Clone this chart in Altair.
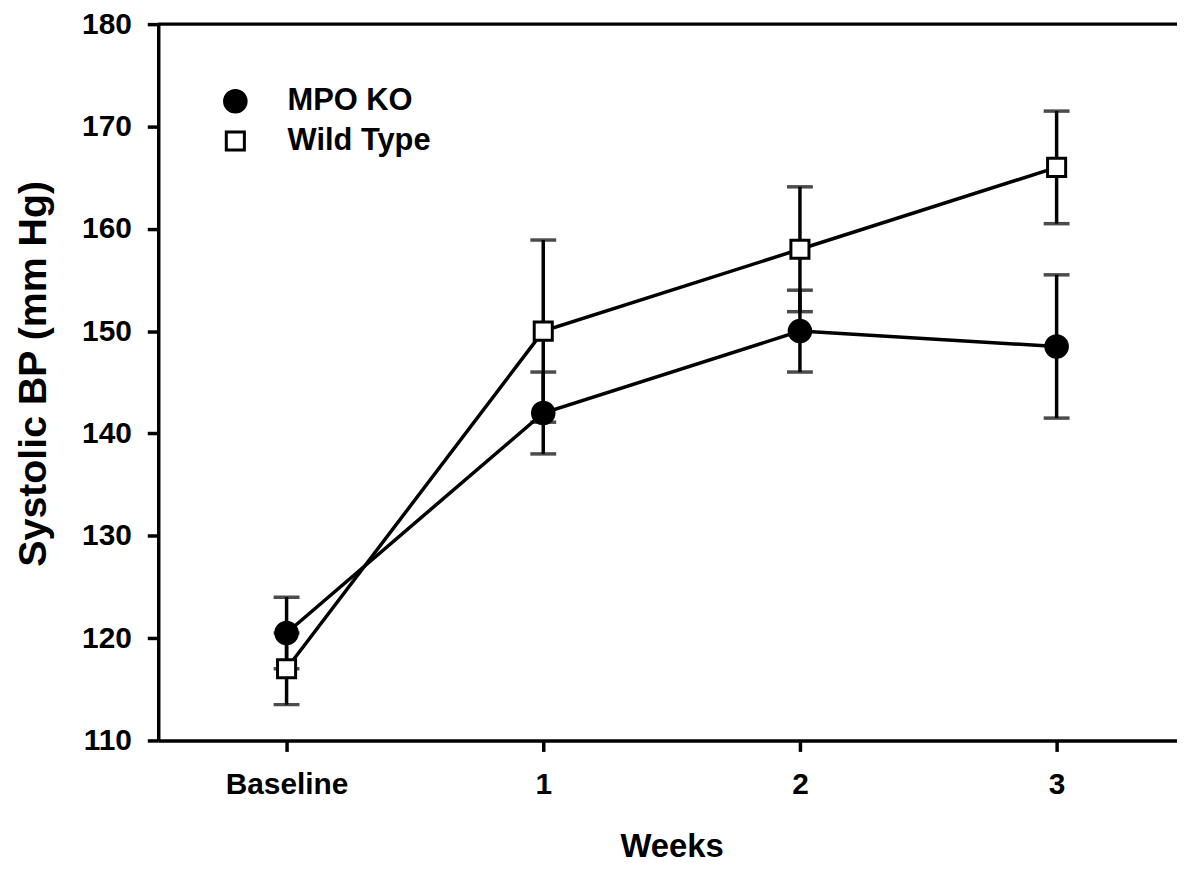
import altair as alt
import pandas as pd

weeks = [0, 1, 2, 3]
week_labels = ["Baseline", "1", "2", "3"]
groups = ["MPO KO", "Wild Type"]
mpo_mean = [120.5, 142.0, 150.0, 148.5]
mpo_err = [3.5, 4.0, 4.0, 7.0]
wt_mean = [117.0, 150.0, 158.0, 166.0]
wt_err = [3.5, 8.9, 6.1, 5.5]
y_ticks = [110, 120, 130, 140, 150, 160, 170, 180]

rows = []
for g, means, errs in [(groups[0], mpo_mean, mpo_err), (groups[1], wt_mean, wt_err)]:
    for w, m, e in zip(weeks, means, errs):
        rows.append({"week": w, "group": g, "mean": m, "lo": m - e, "hi": m + e})
df = pd.DataFrame(rows)

FONT = "Liberation Sans"
YTITLE = "Systolic BP (mm Hg)"
LW = 3.5

xscale = alt.Scale(domain=[-0.5, 3.469], nice=False, zero=False)
yscale = alt.Scale(domain=[110, 180], nice=False, zero=False)

label_map = "{" + ",".join(f"'{w}':'{l}'" for w, l in zip(weeks, week_labels)) + "}"

xaxis = alt.Axis(values=weeks, labelExpr=f"{label_map}[datum.value]",
                 title="Weeks", titleY=117, titleX=516, titleBaseline="alphabetic",
                 titleAlign="center", titleFontSize=33, labelPadding=18, grid=False)
yaxis = alt.Axis(values=y_ticks, title=YTITLE, titleAngle=270, titleX=-113, titleY=351,
                 titleAlign="center", titleBaseline="alphabetic", titleFontSize=39.5,
                 labelPadding=16, grid=False)

def X():
    return alt.X("week:Q", scale=xscale, axis=xaxis, title="Weeks")

def Y(field):
    return alt.Y(field, scale=yscale, axis=yaxis, title=YTITLE)

base = alt.Chart(df)

top_line = alt.Chart(pd.DataFrame({"top": [180]})).mark_rule(
    color="black", strokeWidth=3.5).encode(y=Y("top:Q"))

err = base.mark_rule(color="black", strokeWidth=LW).encode(x=X(), y=Y("lo:Q"), y2="hi:Q")
cap_hi = base.mark_tick(color="black", orient="horizontal", size=26, thickness=LW).encode(
    x=X(), y=Y("hi:Q"))
cap_lo = base.mark_tick(color="black", orient="horizontal", size=26, thickness=LW).encode(
    x=X(), y=Y("lo:Q"))
lines = base.mark_line(color="black", strokeWidth=LW).encode(
    x=X(), y=Y("mean:Q"), detail="group:N")

legend = alt.Legend(
    title=None, orient="none", legendX=62, legendY=62,
    labelFontSize=31, labelFont=FONT, labelFontWeight="bold",
    labelColor="black", symbolStrokeColor="black", symbolStrokeWidth=3,
    symbolOpacity=1, rowPadding=6, labelOffset=37, padding=0,
)

points = base.mark_point(filled=True, strokeWidth=3, opacity=1).encode(
    x=X(), y=Y("mean:Q"),
    shape=alt.Shape("group:N", scale=alt.Scale(domain=groups, range=["circle", "square"]), legend=legend),
    fill=alt.Fill("group:N", scale=alt.Scale(domain=groups, range=["black", "white"]), legend=legend),
    stroke=alt.Stroke("group:N", scale=alt.Scale(domain=groups, range=["black", "black"]), legend=legend),
    size=alt.Size("group:N", scale=alt.Scale(domain=groups, range=[470, 330]), legend=legend),
)

chart = alt.layer(top_line, err, cap_hi, cap_lo, lines, points).properties(
    width=1024, height=720,
    background="white",
    autosize=alt.AutoSizeParams(type="none"),
    padding={"left": 151, "top": 14, "right": 0, "bottom": 124},
).configure_axis(
    labelFont=FONT, labelFontWeight="bold", labelFontSize=30, labelColor="black",
    titleFont=FONT, titleFontWeight="bold", titleColor="black",
    domainColor="black", domainWidth=3.5, tickColor="black", tickWidth=3.5, tickSize=11,
    grid=False,
).configure_view(stroke=None)

chart.save("out.html", embed_options={"renderer": "svg", "actions": False})
